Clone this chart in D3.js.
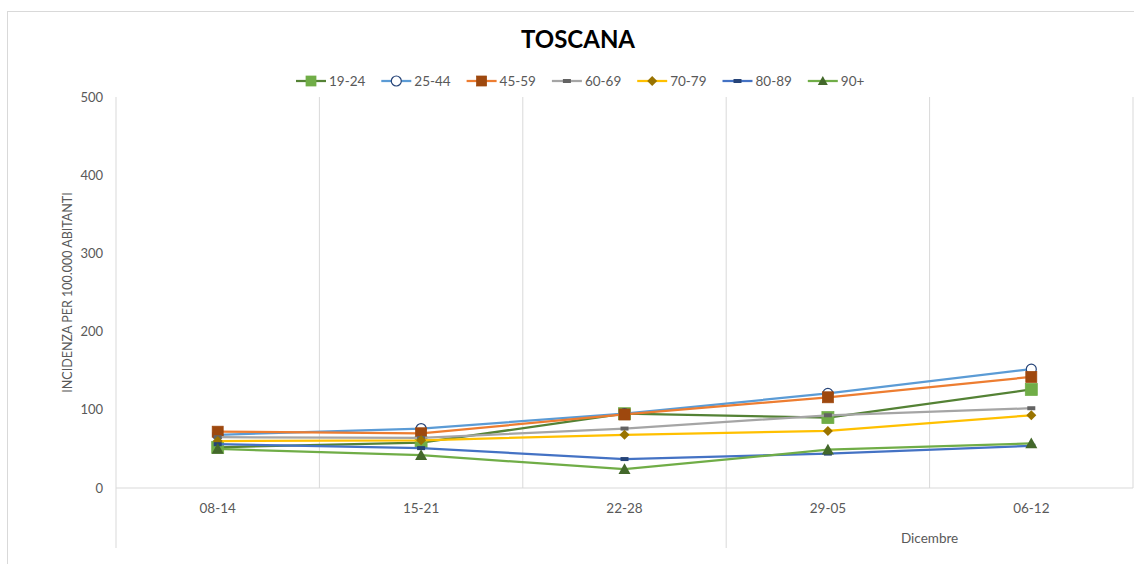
<!DOCTYPE html>
<html>
<head>
<meta charset="utf-8">
<script src="https://cdn.jsdelivr.net/npm/d3@7"></script>
<style>
  body { margin: 0; background: #fff; }
  text { font-family: Lato, "Open Sans", sans-serif; fill: #595959; }
</style>
</head>
<body>
<svg width="1134" height="564"></svg>
<script>
var categories = ["08-14", "15-21", "22-28", "29-05", "06-12"];
var seriesNames = ["19-24", "25-44", "45-59", "60-69", "70-79", "80-89", "90+"];
var v1924 = [52, 58, 95, 90, 126];
var v2544 = [68, 76, 95, 121, 152];
var v4559 = [72, 70, 94, 116, 142];
var v6069 = [65, 64, 76, 93, 102];
var v7079 = [60, 61, 68, 73, 93];
var v8089 = [56, 51, 37, 44, 54];
var v90 = [50, 42, 24, 49, 57];
var yTicks = [0, 100, 200, 300, 400, 500];

var series = [
  { name: "19-24", values: v1924, line: "#548235", marker: "square", fill: "#70ad47", stroke: "#70ad47", size: 12 },
  { name: "25-44", values: v2544, line: "#5b9bd5", marker: "circle", fill: "none", stroke: "#264478", size: 10 },
  { name: "45-59", values: v4559, line: "#ed7d31", marker: "square", fill: "#9e480e", stroke: "#9e480e", size: 11 },
  { name: "60-69", values: v6069, line: "#a5a5a5", marker: "dash", fill: "#636363", stroke: "#636363", size: 8 },
  { name: "70-79", values: v7079, line: "#ffc000", marker: "diamond", fill: "#997300", stroke: "#997300", size: 10 },
  { name: "80-89", values: v8089, line: "#4472c4", marker: "dash", fill: "#264478", stroke: "#264478", size: 8 },
  { name: "90+", values: v90, line: "#70ad47", marker: "triangle", fill: "#43682b", stroke: "#43682b", size: 12 }
];

var svg = d3.select("svg");

// chart area border
svg.append("rect")
  .attr("x", 7.5).attr("y", 11.5)
  .attr("width", 1140).attr("height", 600)
  .attr("fill", "none").attr("stroke", "#d9d9d9");

var x = d3.scaleBand().domain(categories).range([116, 1133]);
var y = d3.scaleLinear().domain([0, 500]).range([488, 97]);

// vertical gridlines between categories
var bounds = categories.map(function(c) { return x(c) + x.bandwidth(); });
svg.append("g").selectAll("line")
  .data(bounds).enter().append("line")
  .attr("x1", d => d).attr("x2", d => d)
  .attr("y1", y(500)).attr("y2", y(0))
  .attr("stroke", "#d9d9d9");

// axes lines
svg.append("line")
  .attr("x1", 116).attr("x2", 1133)
  .attr("y1", y(0)).attr("y2", y(0))
  .attr("stroke", "#d9d9d9");
svg.append("line")
  .attr("x1", 116).attr("x2", 116)
  .attr("y1", y(500)).attr("y2", 548)
  .attr("stroke", "#d9d9d9");
// month group separator
svg.append("line")
  .attr("x1", x("29-05")).attr("x2", x("29-05"))
  .attr("y1", y(0)).attr("y2", 548)
  .attr("stroke", "#d9d9d9");

// y tick labels
svg.append("g").selectAll("text")
  .data(yTicks).enter().append("text")
  .attr("x", 103).attr("y", d => y(d) + 4.5)
  .attr("text-anchor", "end")
  .attr("font-size", 13)
  .text(d => d);

// x labels
svg.append("g").selectAll("text")
  .data(categories).enter().append("text")
  .attr("x", d => x(d) + x.bandwidth() / 2)
  .attr("y", 513)
  .attr("text-anchor", "middle")
  .attr("font-size", 13.5)
  .text(d => d);

svg.append("text")
  .attr("x", (x("29-05") + 1133) / 2)
  .attr("y", 543)
  .attr("text-anchor", "middle")
  .attr("font-size", 13.5)
  .text("Dicembre");

// y axis title
svg.append("text")
  .attr("transform", "translate(72," + (y(250)) + ") rotate(-90)")
  .attr("text-anchor", "middle")
  .attr("font-size", 12.5)
  .text("INCIDENZA PER 100.000 ABITANTI");

// title
svg.append("text")
  .attr("x", 578).attr("y", 48)
  .attr("text-anchor", "middle")
  .attr("font-size", 24)
  .attr("font-weight", "bold")
  .style("fill", "#000")
  .text("TOSCANA");

function drawMarker(sel, s) {
  var r = s.size / 2;
  if (s.marker == "square") {
    sel.append("rect")
      .attr("x", -r).attr("y", -r).attr("width", s.size).attr("height", s.size)
      .attr("fill", s.fill).attr("stroke", s.stroke).attr("stroke-width", 0.75);
  } else if (s.marker == "circle") {
    sel.append("circle")
      .attr("r", r).attr("fill", "#fff").attr("stroke", s.stroke).attr("stroke-width", 1.2);
  } else if (s.marker == "dash") {
    sel.append("rect")
      .attr("x", -r).attr("y", -2).attr("width", s.size).attr("height", 4)
      .attr("fill", s.fill);
  } else if (s.marker == "diamond") {
    sel.append("path")
      .attr("d", "M0," + (-r) + "L" + r + ",0L0," + r + "L" + (-r) + ",0Z")
      .attr("fill", s.fill);
  } else if (s.marker == "triangle") {
    sel.append("path")
      .attr("d", "M0," + (-r) + "L" + r + "," + (r * 0.8) + "L" + (-r) + "," + (r * 0.8) + "Z")
      .attr("fill", s.fill);
  }
}

var line = d3.line()
  .x((d, i) => x(categories[i]) + x.bandwidth() / 2)
  .y(d => y(d));

series.forEach(function(s) {
  var g = svg.append("g");
  g.append("path")
    .datum(s.values)
    .attr("d", line)
    .attr("fill", "none")
    .attr("stroke", s.line)
    .attr("stroke-width", 2.25)
    .attr("stroke-linejoin", "round");
  s.values.forEach(function(v, i) {
    var m = g.append("g")
      .attr("transform", "translate(" + (x(categories[i]) + x.bandwidth() / 2) + "," + y(v) + ")");
    drawMarker(m, s);
  });
});

// legend
var legend = svg.append("g");
series.forEach(function(s, i) {
  var lx = 296 + i * 85.3;
  var ly = 81;
  legend.append("line")
    .attr("x1", lx).attr("x2", lx + 30)
    .attr("y1", ly).attr("y2", ly)
    .attr("stroke", s.line).attr("stroke-width", 2.25);
  var m = legend.append("g").attr("transform", "translate(" + (lx + 15) + "," + ly + ")");
  drawMarker(m, Object.assign({}, s, { size: Math.min(s.size, 10) }));
  legend.append("text")
    .attr("x", lx + 33).attr("y", ly + 5)
    .attr("font-size", 13.5)
    .text(s.name);
});
</script>
</body>
</html>
